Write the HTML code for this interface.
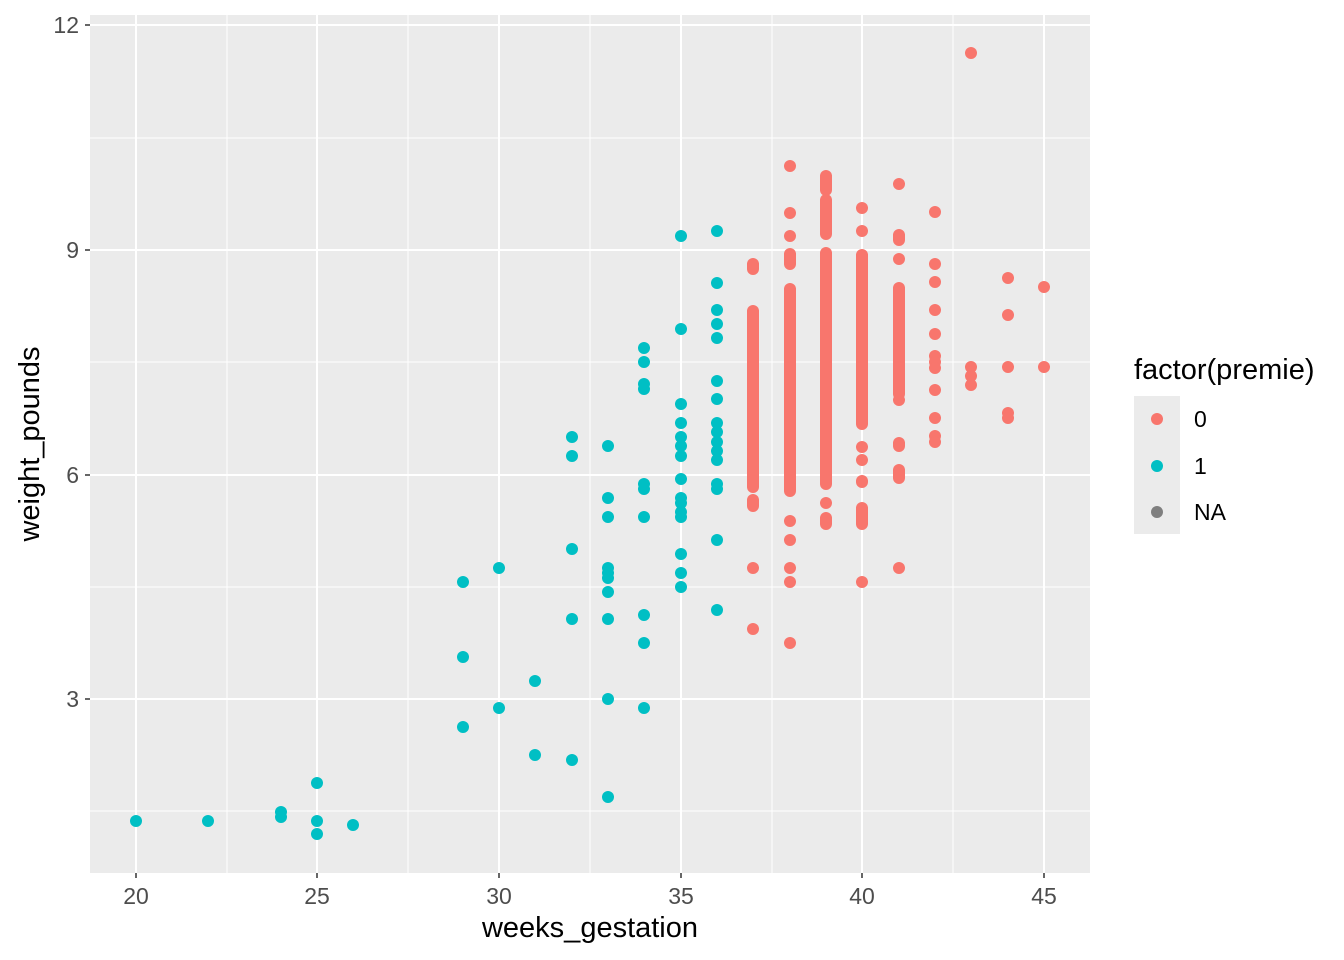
<!DOCTYPE html>
<html><head><meta charset="utf-8"><style>html,body{margin:0;padding:0;background:#fff}svg{display:block}</style></head><body>
<svg width="1344" height="960" xmlns="http://www.w3.org/2000/svg" font-family="Liberation Sans, sans-serif">
<rect x="90" y="15" width="1000" height="858" fill="#ebebeb"/>
<g stroke="#fff" stroke-width="1">
<line x1="227" y1="15" x2="227" y2="873"/><line x1="408" y1="15" x2="408" y2="873"/><line x1="590" y1="15" x2="590" y2="873"/><line x1="772" y1="15" x2="772" y2="873"/><line x1="953" y1="15" x2="953" y2="873"/>
<line x1="90" y1="138" x2="1090" y2="138"/><line x1="90" y1="362" x2="1090" y2="362"/><line x1="90" y1="587" x2="1090" y2="587"/><line x1="90" y1="811" x2="1090" y2="811"/>
</g>
<g stroke="#fff" stroke-width="2">
<line x1="136" y1="15" x2="136" y2="873"/><line x1="317" y1="15" x2="317" y2="873"/><line x1="499" y1="15" x2="499" y2="873"/><line x1="681" y1="15" x2="681" y2="873"/><line x1="862" y1="15" x2="862" y2="873"/><line x1="1044" y1="15" x2="1044" y2="873"/>
<line x1="90" y1="25" x2="1090" y2="25"/><line x1="90" y1="250" x2="1090" y2="250"/><line x1="90" y1="475" x2="1090" y2="475"/><line x1="90" y1="699" x2="1090" y2="699"/>
</g>
<g stroke="#F8766D" stroke-width="12" stroke-linecap="round">
<line x1="753" y1="264" x2="753" y2="269"/><line x1="753" y1="311" x2="753" y2="487"/><line x1="753" y1="500" x2="753" y2="506"/>
<line x1="790" y1="254" x2="790" y2="264"/><line x1="790" y1="289" x2="790" y2="491"/>
<line x1="826" y1="176" x2="826" y2="190"/><line x1="826" y1="200" x2="826" y2="234"/><line x1="826" y1="253" x2="826" y2="484"/><line x1="826" y1="518" x2="826" y2="524"/>
<line x1="862" y1="255" x2="862" y2="424"/><line x1="862" y1="481" x2="862" y2="482"/><line x1="862" y1="508" x2="862" y2="524"/>
<line x1="899" y1="288" x2="899" y2="394"/><line x1="899" y1="443" x2="899" y2="446"/><line x1="899" y1="470" x2="899" y2="478"/><line x1="899" y1="235" x2="899" y2="240"/>
</g>
<g fill="#F8766D">
<circle cx="753" cy="568" r="6"/><circle cx="753" cy="629" r="6"/>
<circle cx="790" cy="166" r="6"/><circle cx="790" cy="213" r="6"/><circle cx="790" cy="236" r="6"/><circle cx="790" cy="521" r="6"/><circle cx="790" cy="540" r="6"/><circle cx="790" cy="568" r="6"/><circle cx="790" cy="582" r="6"/><circle cx="790" cy="643" r="6"/>
<circle cx="826" cy="503" r="6"/>
<circle cx="862" cy="208" r="6"/><circle cx="862" cy="231" r="6"/><circle cx="862" cy="447" r="6"/><circle cx="862" cy="460" r="6"/><circle cx="862" cy="582" r="6"/>
<circle cx="899" cy="184" r="6"/><circle cx="899" cy="259" r="6"/><circle cx="899" cy="400" r="6"/><circle cx="899" cy="568" r="6"/>
<circle cx="935" cy="212" r="6"/><circle cx="935" cy="264" r="6"/><circle cx="935" cy="282" r="6"/><circle cx="935" cy="310" r="6"/><circle cx="935" cy="334" r="6"/><circle cx="935" cy="356" r="6"/><circle cx="935" cy="362" r="6"/><circle cx="935" cy="368" r="6"/><circle cx="935" cy="390" r="6"/><circle cx="935" cy="418" r="6"/><circle cx="935" cy="436" r="6"/><circle cx="935" cy="442" r="6"/>
<circle cx="971" cy="53" r="6"/><circle cx="971" cy="367" r="6"/><circle cx="971" cy="376" r="6"/><circle cx="971" cy="385" r="6"/>
<circle cx="1008" cy="278" r="6"/><circle cx="1008" cy="315" r="6"/><circle cx="1008" cy="367" r="6"/><circle cx="1008" cy="413" r="6"/><circle cx="1008" cy="418" r="6"/>
<circle cx="1044" cy="287" r="6"/><circle cx="1044" cy="367" r="6"/>
</g>
<g fill="#00BFC4">
<circle cx="136" cy="821" r="6"/><circle cx="208" cy="821" r="6"/><circle cx="281" cy="812" r="6"/><circle cx="281" cy="817" r="6"/><circle cx="317" cy="783" r="6"/><circle cx="317" cy="821" r="6"/><circle cx="317" cy="834" r="6"/><circle cx="353" cy="825" r="6"/>
<circle cx="463" cy="582" r="6"/><circle cx="463" cy="657" r="6"/><circle cx="463" cy="727" r="6"/>
<circle cx="499" cy="568" r="6"/><circle cx="499" cy="708" r="6"/>
<circle cx="535" cy="681" r="6"/><circle cx="535" cy="755" r="6"/>
<circle cx="572" cy="437" r="6"/><circle cx="572" cy="456" r="6"/><circle cx="572" cy="549" r="6"/><circle cx="572" cy="619" r="6"/><circle cx="572" cy="760" r="6"/>
<circle cx="608" cy="446" r="6"/><circle cx="608" cy="498" r="6"/><circle cx="608" cy="517" r="6"/><circle cx="608" cy="568" r="6"/><circle cx="608" cy="573" r="6"/><circle cx="608" cy="578" r="6"/><circle cx="608" cy="592" r="6"/><circle cx="608" cy="619" r="6"/><circle cx="608" cy="699" r="6"/><circle cx="608" cy="797" r="6"/>
<circle cx="644" cy="348" r="6"/><circle cx="644" cy="362" r="6"/><circle cx="644" cy="384" r="6"/><circle cx="644" cy="389" r="6"/><circle cx="644" cy="484" r="6"/><circle cx="644" cy="489" r="6"/><circle cx="644" cy="517" r="6"/><circle cx="644" cy="615" r="6"/><circle cx="644" cy="643" r="6"/><circle cx="644" cy="708" r="6"/>
<circle cx="681" cy="236" r="6"/><circle cx="681" cy="329" r="6"/><circle cx="681" cy="404" r="6"/><circle cx="681" cy="423" r="6"/><circle cx="681" cy="437" r="6"/><circle cx="681" cy="446" r="6"/><circle cx="681" cy="456" r="6"/><circle cx="681" cy="479" r="6"/><circle cx="681" cy="498" r="6"/><circle cx="681" cy="503" r="6"/><circle cx="681" cy="512" r="6"/><circle cx="681" cy="517" r="6"/><circle cx="681" cy="554" r="6"/><circle cx="681" cy="573" r="6"/><circle cx="681" cy="587" r="6"/>
<circle cx="717" cy="231" r="6"/><circle cx="717" cy="283" r="6"/><circle cx="717" cy="310" r="6"/><circle cx="717" cy="324" r="6"/><circle cx="717" cy="338" r="6"/><circle cx="717" cy="381" r="6"/><circle cx="717" cy="399" r="6"/><circle cx="717" cy="423" r="6"/><circle cx="717" cy="432" r="6"/><circle cx="717" cy="442" r="6"/><circle cx="717" cy="451" r="6"/><circle cx="717" cy="460" r="6"/><circle cx="717" cy="484" r="6"/><circle cx="717" cy="489" r="6"/><circle cx="717" cy="540" r="6"/><circle cx="717" cy="610" r="6"/>
</g>
<g stroke="#333" stroke-width="1.5">
<line x1="85" y1="25" x2="90" y2="25"/><line x1="85" y1="250" x2="90" y2="250"/><line x1="85" y1="475" x2="90" y2="475"/><line x1="85" y1="699" x2="90" y2="699"/>
<line x1="136" y1="873" x2="136" y2="878"/><line x1="317" y1="873" x2="317" y2="878"/><line x1="499" y1="873" x2="499" y2="878"/><line x1="681" y1="873" x2="681" y2="878"/><line x1="862" y1="873" x2="862" y2="878"/><line x1="1044" y1="873" x2="1044" y2="878"/>
</g>
<g fill="#4d4d4d" font-size="23" text-anchor="end">
<text x="79" y="33">12</text><text x="79" y="258">9</text><text x="79" y="483">6</text><text x="79" y="707">3</text>
</g>
<g fill="#4d4d4d" font-size="23" text-anchor="middle">
<text x="136" y="904">20</text><text x="317" y="904">25</text><text x="499" y="904">30</text><text x="681" y="904">35</text><text x="862" y="904">40</text><text x="1044" y="904">45</text>
</g>
<text x="590" y="937" font-size="29" text-anchor="middle" fill="#000">weeks_gestation</text>
<text transform="translate(39,444) rotate(-90)" font-size="29" text-anchor="middle" fill="#000">weight_pounds</text>
<text x="1134" y="379" font-size="29" fill="#000">factor(premie)</text>
<rect x="1134" y="396" width="46" height="138" fill="#ebebeb"/>
<circle cx="1157" cy="419" r="6" fill="#F8766D"/><circle cx="1157" cy="466" r="6" fill="#00BFC4"/><circle cx="1157" cy="512" r="6" fill="#7f7f7f"/>
<g font-size="23" fill="#000"><text x="1194" y="427">0</text><text x="1194" y="474">1</text><text x="1194" y="520">NA</text></g>
</svg>
</body></html>
